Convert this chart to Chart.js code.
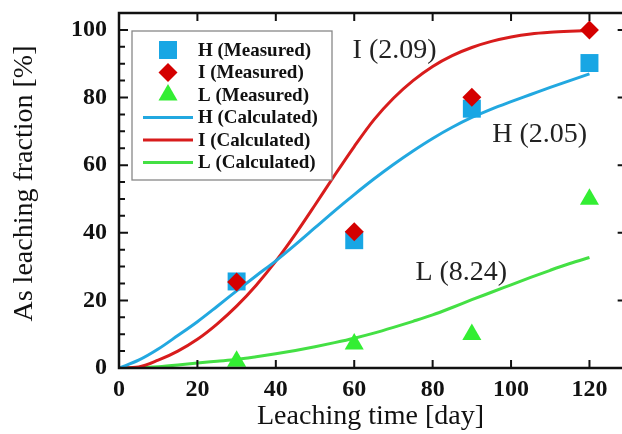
<!DOCTYPE html>
<html>
<head>
<meta charset="utf-8">
<script src="https://cdn.jsdelivr.net/npm/chart.js@4/dist/chart.umd.min.js"></script>
<style>
	html, body { margin: 0; padding: 0; background: #fff; }
	#wrap { width: 622px; height: 434px; }
</style>
</head>
<body>
<div id="wrap"><canvas id="canLeaching" width="622" height="434"></canvas></div>
<script>
'use strict'

//////////////////////////////////////////////////////////////////////
// data

// measured points
const measuredDays = [30, 60, 90, 120];
const hMeasured = [25.6, 37.8, 76.7, 90.2];
const iMeasured = [25.4, 40.3, 80.1, 100.0];
const lMeasured = [2.0, 7.1, 9.9, 49.9];

// calculated curves, read every 5 days
const calcDays = [0, 5, 10, 15, 20, 25, 30, 35, 40, 45, 50, 55, 60, 65, 70, 75, 80, 85, 90, 95, 100, 105, 110, 115, 120];
const hCalc = [0, 2.3, 5.6, 9.6, 13.7, 18.2, 22.8, 27.3, 31.7, 36.5, 41.5, 46.5, 51.3, 55.9, 60.2, 64.2, 67.9, 71.2, 74.1, 76.6, 78.8, 80.9, 83.0, 85.0, 87.0];
const iCalc = [0, 0.3, 2.3, 5.0, 8.5, 13.0, 18.3, 24.5, 31.6, 39.6, 48.2, 57.0, 65.5, 73.4, 79.8, 85.0, 89.2, 92.4, 94.8, 96.6, 97.9, 98.8, 99.3, 99.6, 99.8];
const lCalc = [0, 0.1, 0.4, 0.9, 1.5, 2.0, 2.5, 3.3, 4.2, 5.2, 6.3, 7.5, 8.8, 10.3, 12.0, 13.8, 15.7, 17.9, 20.2, 22.4, 24.6, 26.8, 28.9, 30.9, 32.7];

// ticks
const xTicks = [0, 20, 40, 60, 80, 100, 120];
const yTicks = [0, 20, 40, 60, 80, 100];
const yMinorTicks = [5, 10, 15, 25, 30, 35, 45, 50, 55, 65, 70, 75, 85, 90, 95];

// curve labels (shape parameter) and where they sit, in data units
const curveNotes = ['I (2.09)', 'H (2.05)', 'L (8.24)'];
const curveNoteX = [70.3, 107.3, 87.3];
const curveNoteY = [94.0, 68.9, 28.1];

// the visible part of the x axis, and where the (cropped) right frame line is
const X_VISIBLE_MAX = 128.3;
const X_FRAME_MAX = 130;


//////////////////////////////////////////////////////////////////////
// helpers

const SERIF = '"Liberation Serif", "Times New Roman", serif';

let toXY = function (xs, ys) {
	return xs.map((x, k) => ({ x: x, y: ys[k] }));
};

// 枠と内向きの目盛り、凡例、曲線ラベル
const framePlugin = {
	id: 'framePlugin',
	afterDatasetsDraw(chart) {
		const ctx = chart.ctx;
		const a = chart.chartArea;
		const sx = chart.scales.x;
		const sy = chart.scales.y;
		const right = sx.getPixelForValue(X_FRAME_MAX); // just outside the canvas

		ctx.save();

		// frame
		ctx.strokeStyle = '#111';
		ctx.lineWidth = 2.5;
		ctx.strokeRect(a.left, a.top, right - a.left, a.bottom - a.top);

		// ticks
		ctx.lineWidth = 2;
		ctx.beginPath();
		xTicks.forEach((v) => {
			const px = sx.getPixelForValue(v);
			ctx.moveTo(px, a.bottom); ctx.lineTo(px, a.bottom - 8);
			ctx.moveTo(px, a.top); ctx.lineTo(px, a.top + 8);
		});
		yTicks.forEach((v) => {
			const py = sy.getPixelForValue(v);
			ctx.moveTo(a.left, py); ctx.lineTo(a.left + 9, py);
			ctx.moveTo(right, py); ctx.lineTo(right - 11, py);
		});
		yMinorTicks.forEach((v) => {
			const py = sy.getPixelForValue(v);
			ctx.moveTo(a.left, py); ctx.lineTo(a.left + 6, py);
		});
		ctx.stroke();

		// curve labels
		ctx.fillStyle = '#222';
		ctx.font = '28px ' + SERIF;
		ctx.textAlign = 'center';
		ctx.textBaseline = 'middle';
		curveNotes.forEach((t, k) => {
			ctx.fillText(t, sx.getPixelForValue(curveNoteX[k]), sy.getPixelForValue(curveNoteY[k]));
		});

		// legend box
		const bx = 132, by = 31, bw = 200, bh = 149;
		ctx.fillStyle = '#fff';
		ctx.fillRect(bx, by, bw, bh);
		ctx.strokeStyle = '#888';
		ctx.lineWidth = 1.3;
		ctx.strokeRect(bx, by, bw, bh);

		ctx.font = 'bold 19px ' + SERIF;
		ctx.textAlign = 'left';
		chart.data.datasets.forEach((ds, k) => {
			const cy = by + 19 + k * 22.5;
			if (ds.showLine) {
				ctx.strokeStyle = ds.borderColor;
				ctx.lineWidth = 3;
				ctx.beginPath();
				ctx.moveTo(bx + 11, cy); ctx.lineTo(bx + 61, cy);
				ctx.stroke();
			} else {
				ctx.fillStyle = ds.backgroundColor;
				Chart.helpers.drawPoint(ctx, { pointStyle: ds.pointStyle, radius: ds.pointRadius, rotation: 0, borderWidth: 0 }, bx + 36, cy);
			}
			ctx.fillStyle = '#111';
			ctx.fillText(ds.label, bx + 66, cy + 1);
		});

		ctx.restore();
	}
};


//////////////////////////////////////////////////////////////////////
// chart

const canLeaching = document.getElementById('canLeaching');
const ctxLeaching = canLeaching.getContext('2d');

let datasetsLeaching = [
	{
		label: 'H (Measured)', data: toXY(measuredDays, hMeasured), showLine: false,
		pointStyle: 'rect', pointRadius: 12.7, pointBorderWidth: 0,
		backgroundColor: '#18a6e4', borderColor: '#18a6e4', order: 1
	},
	{
		label: 'I (Measured)', data: toXY(measuredDays, iMeasured), showLine: false,
		pointStyle: 'rectRot', pointRadius: 9.5, pointBorderWidth: 0,
		backgroundColor: '#d40000', borderColor: '#d40000', order: 0
	},
	{
		label: 'L (Measured)', data: toXY(measuredDays, lMeasured), showLine: false,
		pointStyle: 'triangle', pointRadius: 11, pointBorderWidth: 0,
		backgroundColor: '#33ee33', borderColor: '#33ee33', order: 0
	},
	{
		label: 'H (Calculated)', data: toXY(calcDays, hCalc), showLine: true,
		borderColor: '#22a8e0', backgroundColor: '#22a8e0', borderWidth: 3,
		pointRadius: 0, cubicInterpolationMode: 'monotone', order: 2
	},
	{
		label: 'I (Calculated)', data: toXY(calcDays, iCalc), showLine: true,
		borderColor: '#d81c1c', backgroundColor: '#d81c1c', borderWidth: 3,
		pointRadius: 0, cubicInterpolationMode: 'monotone', order: 2
	},
	{
		label: 'L (Calculated)', data: toXY(calcDays, lCalc), showLine: true,
		borderColor: '#44e044', backgroundColor: '#44e044', borderWidth: 3,
		pointRadius: 0, cubicInterpolationMode: 'monotone', order: 2
	}
];

let myChartLeaching = new Chart(ctxLeaching, {
	type: 'scatter',
	data: { datasets: datasetsLeaching },
	options: {
		responsive: false,
		animation: false,
		devicePixelRatio: 1,
		layout: { autoPadding: false, padding: { left: 0, right: 0, top: 13, bottom: 0 } },
		plugins: {
			legend: { display: false },
			tooltip: { enabled: false }
		},
		scales: {
			x: {
				type: 'linear',
				position: 'bottom',
				min: 0,
				max: X_VISIBLE_MAX,
				grid: { display: false, drawTicks: false },
				border: { display: false },
				afterBuildTicks: (s) => { s.ticks = xTicks.map((v) => ({ value: v })); },
				afterFit: (s) => { s.height = 66; s.paddingLeft = 0; s.paddingRight = 0; },
				ticks: {
					autoSkip: false,
					maxRotation: 0,
					padding: 7,
					color: '#111',
					font: { family: SERIF, size: 24, weight: 'bold' }
				},
				title: {
					display: true,
					text: 'Leaching time [day]',
					color: '#111',
					padding: { top: 0, bottom: 1 },
					font: { family: SERIF, size: 28 }
				}
			},
			y: {
				type: 'linear',
				position: 'left',
				min: 0,
				max: 105,
				grid: { display: false, drawTicks: false },
				border: { display: false },
				afterBuildTicks: (s) => { s.ticks = yTicks.map((v) => ({ value: v })); },
				afterFit: (s) => { s.width = 119; s.paddingTop = 0; s.paddingBottom = 0; },
				ticks: {
					padding: 12,
					color: '#111',
					font: { family: SERIF, size: 24, weight: 'bold' }
				},
				title: {
					display: true,
					text: '  As leaching fraction [%]',
					color: '#111',
					padding: { top: 8, bottom: 0 },
					font: { family: SERIF, size: 28 }
				}
			}
		}
	},
	plugins: [framePlugin]
});
</script>
</body>
</html>
